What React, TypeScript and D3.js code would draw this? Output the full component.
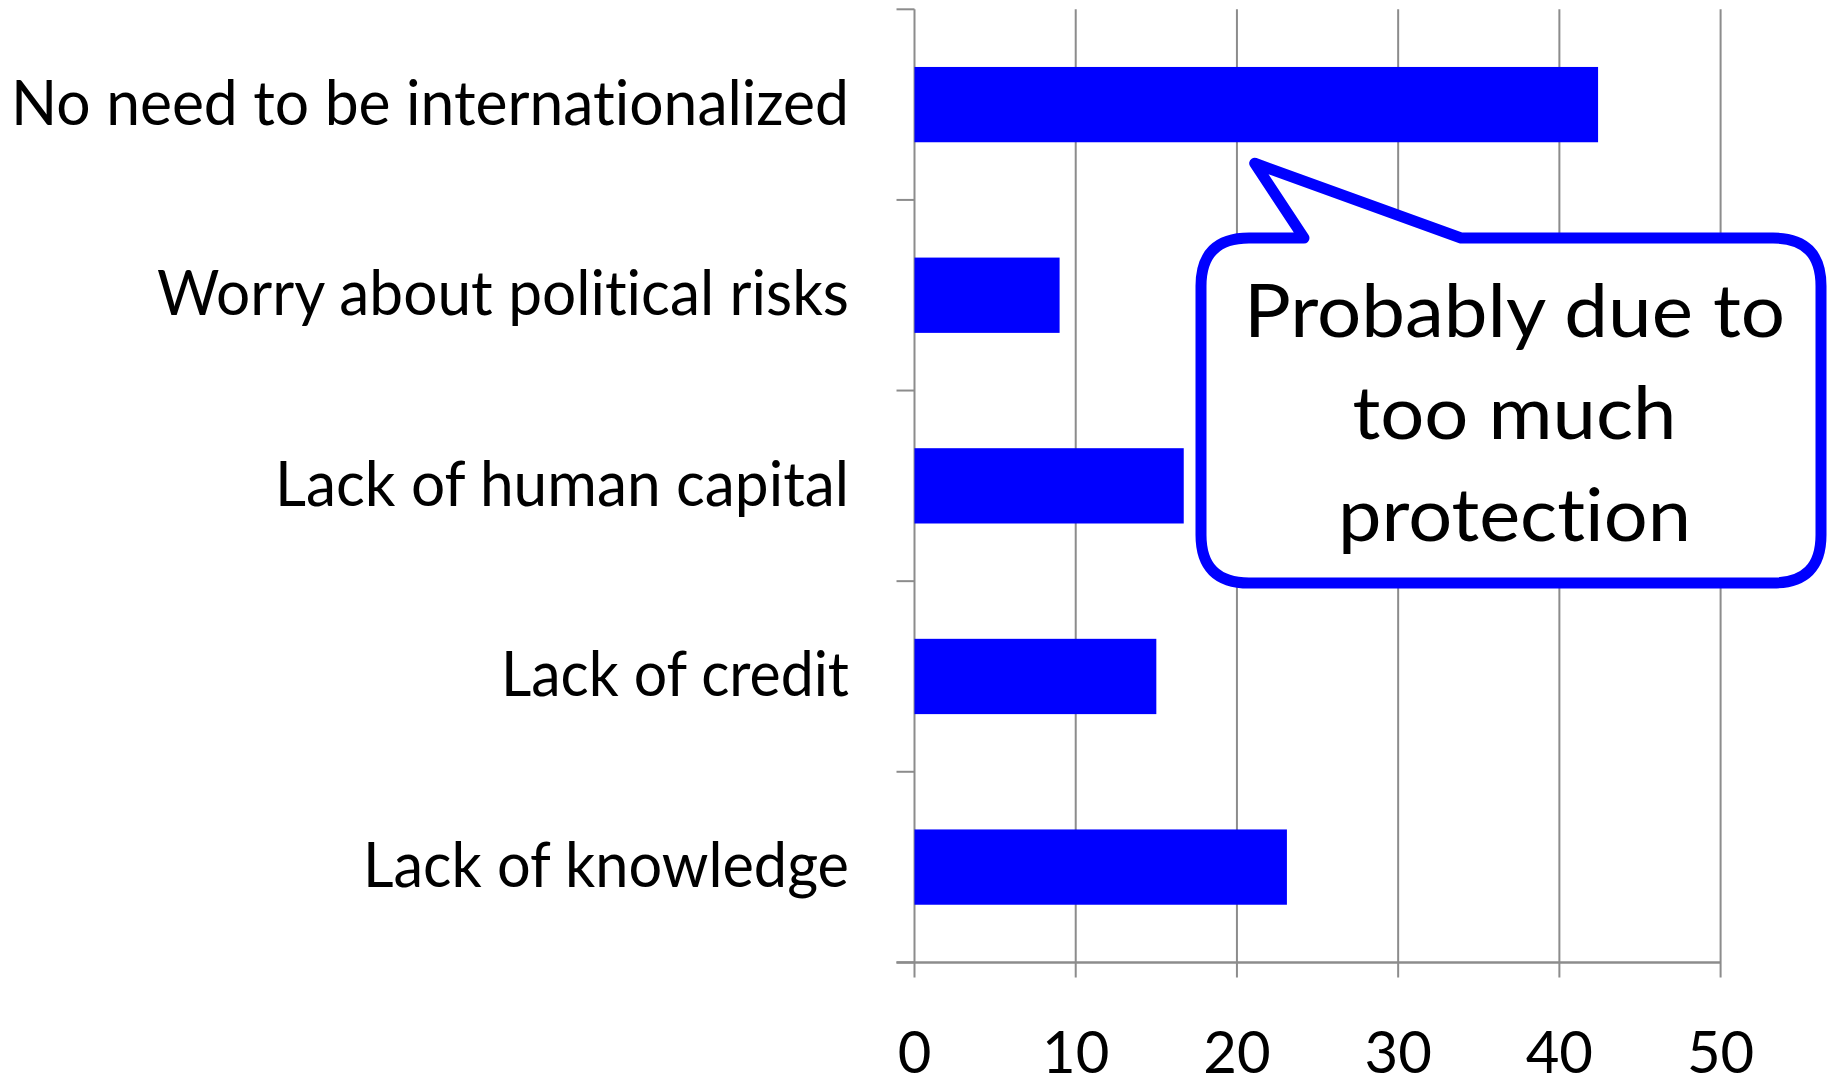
import React from "react";
import * as d3 from "d3";

const categories = [
  "No need to be internationalized",
  "Worry about political risks",
  "Lack of human capital",
  "Lack of credit",
  "Lack of knowledge",
];
const values = [42.4, 9.0, 16.7, 15.0, 23.1];
const labelWidths = [838, 692, 574, 348, 486];
const xTicks = [0, 10, 20, 30, 40, 50];
const calloutLines = ["Probably due to", "too much", "protection"];
const calloutWidths = [541, 324, 353];

const W = 1829;
const H = 1089;
const FONT = "Lato, 'Open Sans', sans-serif";
const GRID = "#8c8c8c";
const BLUE = "#0000ff";
const noLig: React.CSSProperties = {
  fontVariantLigatures: "none",
  fontFeatureSettings: '"liga" 0, "clig" 0',
};

export default function App() {
  const x = d3.scaleLinear().domain([0, 50]).range([914.5, 1720.6]);
  const y = d3.scaleBand<string>().domain(categories).range([9.3, 962.4]).padding(0);
  const bw = y.bandwidth();
  const barH = bw * 0.395;
  const x0 = x(0);
  const yTop = 9.3;
  const yBot = 962.4;

  // callout geometry (anchored to first bar & x scale)
  const bar1Bottom = (y(categories[0]) as number) + bw / 2 + barH / 2;
  const tip: [number, number] = [x(21.1), bar1Bottom + 21];
  const bx0 = 1201, bx1 = 1821, by0 = 238, by1 = 583, r = 48;
  const tL = 1304, tR = 1461;
  const path = [
    `M ${bx0 + r} ${by0}`,
    `L ${tL} ${by0}`,
    `L ${tip[0]} ${tip[1]}`,
    `L ${tR} ${by0}`,
    `L ${bx1 - r} ${by0}`,
    `Q ${bx1} ${by0} ${bx1} ${by0 + r}`,
    `L ${bx1} ${by1 - r}`,
    `Q ${bx1} ${by1} ${bx1 - r} ${by1}`,
    `L ${bx0 + r} ${by1}`,
    `Q ${bx0} ${by1} ${bx0} ${by1 - r}`,
    `L ${bx0} ${by0 + r}`,
    `Q ${bx0} ${by0} ${bx0 + r} ${by0}`,
    "Z",
  ].join(" ");
  const cx = 1514.5;
  const baselines = [337, 439, 541];

  const bounds = [...categories.map((c) => y(c) as number), yBot];

  return (
    <svg
      width={W}
      height={H}
      style={{ position: "absolute", left: 0, top: 0, background: "#fff" }}
    >
      <rect x={0} y={0} width={W} height={H} fill="#fff" />
      {/* gridlines */}
      {xTicks.map((t) => (
        <line key={"g" + t} x1={x(t)} x2={x(t)} y1={yTop} y2={yBot + 15} stroke={GRID} strokeWidth={2} />
      ))}
      {/* x axis */}
      <line x1={x0 - 18} x2={x(50)} y1={yBot} y2={yBot} stroke={GRID} strokeWidth={2.5} />
      {/* y axis ticks */}
      {bounds.map((b, i) => (
        <line key={"yt" + i} x1={x0 - 18} x2={x0} y1={b} y2={b} stroke={GRID} strokeWidth={2} />
      ))}
      {/* bars */}
      {categories.map((c, i) => (
        <rect
          key={c}
          x={x0}
          y={(y(c) as number) + bw / 2 - barH / 2}
          width={x(values[i]) - x0}
          height={barH}
          fill={BLUE}
        />
      ))}
      {/* category labels */}
      {categories.map((c, i) => (
        <text
          key={"l" + c}
          x={849}
          y={(y(c) as number) + bw / 2 + 20}
          textAnchor="end"
          fontFamily={FONT}
          fontSize={61}
          fill="#000"
          style={noLig}
          textLength={labelWidths[i]}
          lengthAdjust="spacingAndGlyphs"
        >
          {c}
        </text>
      ))}
      {/* tick labels */}
      {xTicks.map((t) => (
        <text
          key={"tl" + t}
          x={x(t)}
          y={1073}
          textAnchor="middle"
          fontFamily={FONT}
          fontSize={58}
          fill="#000"
        >
          {t}
        </text>
      ))}
      {/* callout */}
      <path d={path} fill="#fff" stroke={BLUE} strokeWidth={11} strokeLinejoin="round" />
      {calloutLines.map((l, i) => (
        <text
          key={"c" + i}
          x={cx}
          y={baselines[i]}
          textAnchor="middle"
          fontFamily={FONT}
          fontSize={74}
          fill="#000"
          style={noLig}
          textLength={calloutWidths[i]}
          lengthAdjust="spacingAndGlyphs"
        >
          {l}
        </text>
      ))}
    </svg>
  );
}
